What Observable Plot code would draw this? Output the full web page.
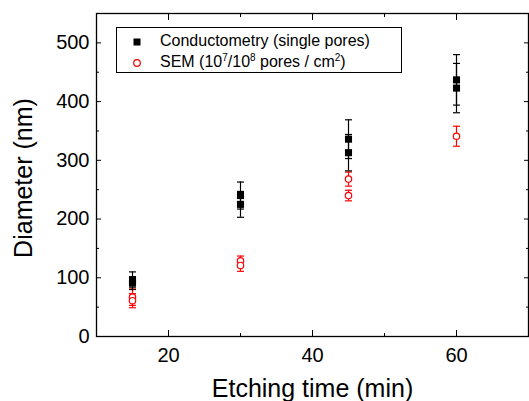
<!DOCTYPE html>
<html><head><meta charset="utf-8">
<script src="https://cdn.jsdelivr.net/npm/d3@7"></script>
<script src="https://cdn.jsdelivr.net/npm/@observablehq/plot@0.6"></script>
<style>
body{margin:0;background:#fff;}
#wrap{position:relative;width:529px;height:401px;font-family:"Liberation Sans",Arial,sans-serif;}
#legend{position:absolute;left:116px;top:27px;width:286px;height:46px;border:1px solid #000;box-sizing:border-box;background:#fff;font-size:16px;color:#000;}
#legend .row{position:absolute;left:0;height:20px;line-height:20px;white-space:nowrap;}
#legend svg{position:absolute;left:14px;top:5px;}
#legend span{position:absolute;left:43px;top:0;}
#legend sup{font-size:10px;vertical-align:0;position:relative;top:-6px;}
</style></head><body><div id="wrap"><div id="legend"></div></div>
<script>
// Conductometry (single pores)
const condTime = [15, 15, 30, 30, 45, 45, 60, 60];
const condDiameter = [97, 91, 240, 225, 336, 313, 437, 423];
const condError = [13, 11, 23, 22, 33, 31, 43, 42];
// SEM (10^7/10^8 pores / cm^2)
const semTime = [15, 15, 30, 30, 45, 45, 60];
const semDiameter = [67, 61, 129, 121, 268, 240, 341];
const semError = [14, 12, 8, 10, 12, 9, 17];
const xTicks = [20, 40, 60];
const xMinorTicks = [30, 50];
const yTicks = [0, 100, 200, 300, 400, 500];
const yMinorTicks = [50, 150, 250, 350, 450];
const xLabel = "Etching time (min)";
const yLabel = "Diameter (nm)";
const seriesNames = ["Conductometry (single pores)", "SEM (10<sup>7</sup>/10<sup>8</sup> pores / cm<sup>2</sup>)"];

const cond = condTime.map((t, i) => ({t, d: condDiameter[i], e: condError[i]}));
const sem = semTime.map((t, i) => ({t, d: semDiameter[i], e: semError[i]}));

const cap = {draw(ctx, size) { const w = Math.sqrt(size / Math.PI); ctx.moveTo(-w, 0); ctx.lineTo(w, 0); }};
const red = "#ff0000";

const chart = Plot.plot({
  width: 529, height: 401,
  marginTop: 13, marginBottom: 65, marginLeft: 96, marginRight: 1,
  style: {fontFamily: "'Liberation Sans', Arial, sans-serif", fontSize: "20px", color: "#000", background: "transparent"},
  x: {domain: [10, 70]},
  y: {domain: [0, 550]},
  marks: [
    Plot.frame({stroke: "#000", strokeWidth: 1.3}),
    Plot.axisX({ticks: xTicks, tickSize: 0, tickPadding: 11, label: null}),
    Plot.axisX({ticks: xTicks, tickSize: -6, text: null, label: null}),
    Plot.axisX({ticks: xMinorTicks, tickSize: -3, text: null, label: null}),
    Plot.axisX({anchor: "top", ticks: xTicks, tickSize: -6, text: null, label: null}),
    Plot.axisX({anchor: "top", ticks: xMinorTicks, tickSize: -3, text: null, label: null}),
    Plot.axisY({ticks: yTicks, tickSize: 0, tickPadding: 7, label: null}),
    Plot.axisY({ticks: yTicks, tickSize: -5, text: null, label: null}),
    Plot.axisY({ticks: yMinorTicks, tickSize: -3, text: null, label: null}),
    Plot.axisY({anchor: "right", ticks: yTicks, tickSize: -5, text: null, label: null}),
    Plot.axisY({anchor: "right", ticks: yMinorTicks, tickSize: -3, text: null, label: null}),
    Plot.text([xLabel], {frameAnchor: "bottom", textAnchor: "middle", lineAnchor: "middle", dy: 52, fontSize: 25}),
    Plot.text([yLabel], {frameAnchor: "left", textAnchor: "middle", lineAnchor: "middle", rotate: -90, dx: -73, dy: 3, fontSize: 25}),
    // SEM error bars and points
    Plot.ruleX(sem, {x: "t", y1: d => d.d - d.e, y2: d => d.d + d.e, stroke: red, strokeWidth: 1.2}),
    Plot.dot(sem, {x: "t", y: d => d.d + d.e, symbol: cap, r: 3.5, stroke: red, strokeWidth: 1.2}),
    Plot.dot(sem, {x: "t", y: d => d.d - d.e, symbol: cap, r: 3.5, stroke: red, strokeWidth: 1.2}),
    Plot.dot(sem, {x: "t", y: "d", r: 3.2, stroke: red, fill: "white", strokeWidth: 1.2}),
    // Conductometry error bars and points
    Plot.ruleX(cond, {x: "t", y1: d => d.d - d.e, y2: d => d.d + d.e, stroke: "#000", strokeWidth: 1.2}),
    Plot.dot(cond, {x: "t", y: d => d.d + d.e, symbol: cap, r: 3.5, stroke: "#000", strokeWidth: 1.2}),
    Plot.dot(cond, {x: "t", y: d => d.d - d.e, symbol: cap, r: 3.5, stroke: "#000", strokeWidth: 1.2}),
    Plot.dot(cond, {x: "t", y: "d", symbol: "square", r: 4, fill: "#000", stroke: "none"})
  ]
});
document.getElementById("wrap").prepend(chart);

// Legend
const legend = d3.select("#legend");
const rows = [
  {name: seriesNames[0], top: 3, sym: "square"},
  {name: seriesNames[1], top: 24, sym: "circle"}
];
rows.forEach(r => {
  const row = legend.append("div").attr("class", "row").style("top", r.top + "px").style("width", "100%");
  const s = row.append("svg").attr("width", 12).attr("height", 12);
  if (r.sym === "square") s.append("rect").attr("x", 2.5).attr("y", 2.5).attr("width", 7).attr("height", 7).attr("fill", "#000");
  else s.append("circle").attr("cx", 6).attr("cy", 6).attr("r", 3.3).attr("fill", "white").attr("stroke", red).attr("stroke-width", 1.2);
  row.append("span").html(r.name);
});
</script></body></html>
